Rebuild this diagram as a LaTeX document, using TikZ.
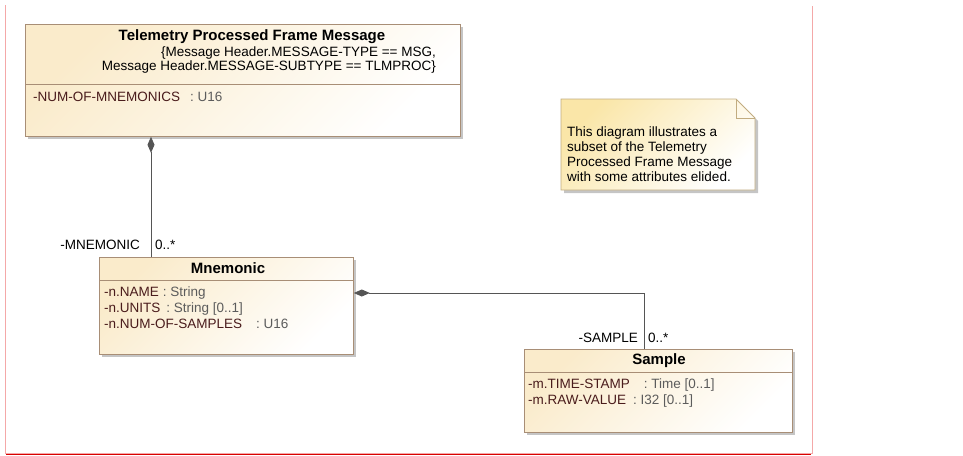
\documentclass[tikz,border=0pt]{standalone}
\usepackage{fontspec}
\setmainfont{Liberation Sans}
\usetikzlibrary{positioning, arrows.meta, shadows, calc}

\definecolor{umlfill}{HTML}{FAEBCB}
\definecolor{umlline}{HTML}{A88E76}
\definecolor{notefill}{HTML}{FAE6A8}
\definecolor{noteline}{HTML}{C2AC80}
\definecolor{attrname}{HTML}{4A1C1C}
\definecolor{attrtype}{HTML}{5C5C5C}
\definecolor{pagered}{HTML}{F4A8A8}
\definecolor{linkgray}{HTML}{555555}

\newcommand{\attr}[3][5pt]{{\color{attrname}#2}\hspace{#1}{\color{attrtype}: #3}}

\begin{document}
\begin{tikzpicture}[x=1pt, y=-1pt,
					every node/.style={font=\fontsize{13.5}{16}\selectfont, inner sep=0pt},
					classbox/.style={draw=umlline, line width=0.8pt, anchor=north west,
						top color=umlfill, bottom color=white, shading angle=45,
						drop shadow={shadow xshift=3pt, shadow yshift=-3pt, fill=black!45, opacity=.5}},
					classname/.style={font=\bfseries\fontsize{15}{16}\selectfont},
					attrs/.style={align=left, anchor=west},
					compose/.style={draw=linkgray, line width=0.8pt, {Diamond[length=16pt, width=7pt]}-}]
	\useasboundingbox (0,0) rectangle (963,455);
	% page border
	\draw[pagered, line width=0.8pt] (5.5,5) -- (5.5,453) -- (812,453) -- (812,6);
	\draw[red!85!black, line width=1pt] (6,454) -- (811,454);

	% classes
	\node[classbox, minimum width=435pt, minimum height=112pt] (tpfm) at (25,24) {};
	\draw[umlline, line width=0.8pt] ($(tpfm.north west)+(0,60)$) -- ($(tpfm.north east)+(0,60)$);
	\node[classname] (tpfm-name) at (252,37) {Telemetry Processed Frame Message};
	\node[anchor=east, align=right, font=\fontsize{13.5}{14.5}\selectfont] (tpfm-constr) at (436,60)
		{\{Message Header.MESSAGE-TYPE == MSG,\\Message Header.MESSAGE-SUBTYPE == TLMPROC\}};
	\node[attrs] (tpfm-attrs) at (33,97) {\attr[10pt]{-NUM-OF-MNEMONICS}{U16}};

	\node[classbox, minimum width=254pt, minimum height=97pt] (mnemonic) at (99,257) {};
	\draw[umlline, line width=0.8pt] ($(mnemonic.north west)+(0,23)$) -- ($(mnemonic.north east)+(0,23)$);
	\node[classname] (mnemonic-name) at (228,268) {Mnemonic};
	\node[attrs] (mnemonic-attrs) at (104,308)
		{\attr[4pt]{-n.NAME}{String}\\\attr[6pt]{-n.UNITS}{String [0..1]}\\\attr[14pt]{-n.NUM-OF-SAMPLES}{U16}};

	\node[classbox, minimum width=268pt, minimum height=83pt] (sample) at (524,349) {};
	\draw[umlline, line width=0.8pt] ($(sample.north west)+(0,23)$) -- ($(sample.north east)+(0,23)$);
	\node[classname] (sample-name) at (659,361) {Sample};
	\node[attrs] (sample-attrs) at (528,393)
		{\attr[14pt]{-m.TIME-STAMP}{Time [0..1]}\\\attr[7pt]{-m.RAW-VALUE}{I32 [0..1]}};

	% note
	\path[draw=noteline, line width=0.8pt, top color=notefill, bottom color=white, shading angle=45,
		drop shadow={shadow xshift=3pt, shadow yshift=-3pt, fill=black!45, opacity=.5}]
		(561,99) -- (736,99) -- (755,118) -- (755,190) -- (561,190) -- cycle;
	\draw[noteline, line width=0.8pt] (736,99) -- (736,118) -- (755,118);
	\node[align=left, anchor=west, font=\fontsize{13.5}{15}\selectfont] (note) at (567,154.5)
		{This diagram illustrates a\\subset of the Telemetry\\Processed Frame Message\\with some attributes elided.};

	% compositions
	\coordinate (mnem-in) at ($(mnemonic.north west)+(52,0)$);
	\coordinate (mnem-out) at ($(mnemonic.north east)+(0,36)$);
	\coordinate (samp-in) at ($(sample.north west)+(120,0)$);
	\draw[compose] (tpfm.south -| mnem-in) -- (mnem-in);
	\draw[compose] (mnem-out) -| (samp-in);
	\node[anchor=east] (mnem-role) at ($(mnem-in)+(-11,-12)$) {-MNEMONIC};
	\node[anchor=west] (mnem-mult) at ($(mnem-in)+(4,-12)$) {0..*};
	\node[anchor=east] (samp-role) at ($(samp-in)+(-6,-11)$) {-SAMPLE};
	\node[anchor=west] (samp-mult) at ($(samp-in)+(4,-11)$) {0..*};
\end{tikzpicture}
\end{document}
